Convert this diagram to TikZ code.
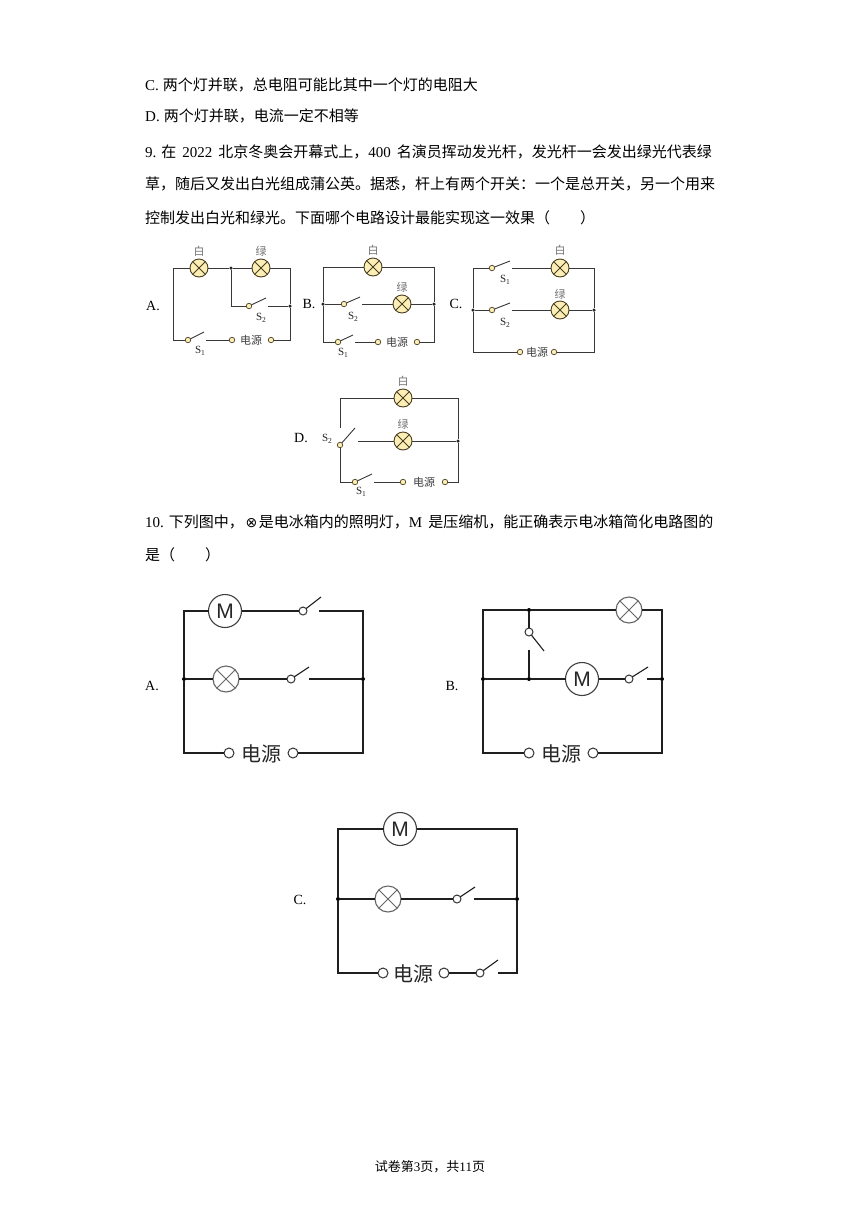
\documentclass[tikz,border=0pt]{standalone}
\usepackage{fontspec}
\setmainfont{Liberation Serif}
\newfontfamily\cjk{Noto Sans CJK SC}
\newfontfamily\arialf{Liberation Sans}
\newfontfamily\dejavu{DejaVu Sans}
\newcommand\zh[1]{{\cjk #1}}
\newcommand\Sn[1]{S\raisebox{-0.35ex}{\fontsize{7.5}{7.5}\selectfont #1}}
\definecolor{lampfill}{HTML}{FCEFB6}
\definecolor{lampline}{HTML}{4A3E22}
\tikzset{
 w9/.style={draw=black!78, line width=0.9pt},
 w10/.style={draw=black!88, line width=1.1pt},
 lamp9/.style={circle, draw=lampline, fill=lampfill, line width=0.9pt, minimum size=18pt, inner sep=0pt, outer sep=0pt},
 lamp10/.style={circle, draw=black!60, line width=1.1pt, minimum size=26pt, inner sep=0pt, outer sep=0pt},
 motor/.style={circle, draw=black!75, line width=1.1pt, minimum size=33pt, inner sep=0pt, outer sep=0pt, font=\arialf\fontsize{21}{21}\selectfont, text=black!85},
 piv9/.style={circle, draw=lampline, fill=lampfill, line width=0.7pt, minimum size=5.5pt, inner sep=0pt, outer sep=0pt},
 piv10/.style={circle, draw=black!80, fill=white, line width=1pt, minimum size=8pt, inner sep=0pt, outer sep=0pt},
 term10/.style={circle, draw=black!80, fill=white, line width=1pt, minimum size=10pt, inner sep=0pt, outer sep=0pt},
 dot9/.style={circle, fill=black!85, minimum size=3.5pt, inner sep=0pt, outer sep=0pt},
 dot10/.style={circle, fill=black, minimum size=4pt, inner sep=0pt, outer sep=0pt},
 txt/.style={anchor=west, inner sep=0pt, font=\fontsize{15}{18}\selectfont},
 lab9/.style={inner sep=0pt, font=\cjk\fontsize{11}{11}\selectfont, text=black!55},
 sub9/.style={inner sep=0pt, font=\fontsize{11}{11}\selectfont, text=black!85},
 src9/.style={inner sep=0pt, font=\cjk\fontsize{11}{11}\selectfont, text=black!75},
 src10/.style={inner sep=0pt, font=\cjk\fontsize{20}{20}\selectfont, text=black!85},
 opt/.style={inner sep=0pt, font=\fontsize{14}{14}\selectfont},
}
\newcommand\lampnine[2]{\node[lamp9] (#1) at (#2) {}; \draw[draw=lampline, line width=0.8pt] (#1.north east) -- (#1.south west) (#1.north west) -- (#1.south east);}
\newcommand\lampten[2]{\node[lamp10] (#1) at (#2) {}; \draw[draw=black!60, line width=1pt] (#1.north east) -- (#1.south west) (#1.north west) -- (#1.south east);}
\newcommand\swnine[3]{\node[piv9] (#1) at (#2) {}; \coordinate (#1t) at (#3); \draw[w9] (#1) -- (#1t);}
\newcommand\swten[3]{\node[piv10] (#1) at (#2) {}; \coordinate (#1t) at (#3); \draw[w10] (#1) -- (#1t);}
\begin{document}
\begin{tikzpicture}[x=1pt,y=-1pt]
\fill[white] (0,0) rectangle (860,1216);
\path[use as bounding box] (0,0) rectangle (860,1216);

% ---------- text ----------
\node[txt] (l1) at (145,85) {C.\hspace{4pt}\zh{两个灯并联，总电阻可能比其中一个灯的电阻大}};
\node[txt] (l2) at (145,116) {D.\hspace{4pt}\zh{两个灯并联，电流一定不相等}};
\node[txt] (l3) at (145,152) {9.\hspace{5pt}\zh{在}\hspace{6pt}2022\hspace{6pt}\zh{北京冬奥会开幕式上，}400\hspace{6pt}\zh{名演员挥动发光杆，发光杆一会发出绿光代表绿}};
\node[txt] (l4) at (145,184) {\zh{草，随后又发出白光组成蒲公英。据悉，杆上有两个开关：一个是总开关，另一个用来}};
\node[txt] (l5) at (145,218) {\zh{控制发出白光和绿光。下面哪个电路设计最能实现这一效果（　　）}};
\node[txt] (l6) at (145,522) {10.\hspace{5pt}\zh{下列图中，}\makebox[15pt]{\dejavu\fontsize{14}{14}\selectfont ⊗}\zh{是电冰箱内的照明灯，}M\hspace{6pt}\zh{是压缩机，能正确表示电冰箱简化电路图的}};
\node[txt] (l7) at (145,555) {\zh{是（　　）}};
\node[inner sep=0pt, font=\fontsize{13}{13}\selectfont] (foot) at (430,1167) {\zh{试卷第}3\zh{页，共}11\zh{页}};

% ---------- Q9 A ----------
\coordinate (a-tl) at (173,268); \coordinate (a-tr) at (290,268);
\coordinate (a-bl) at (173,340); \coordinate (a-br) at (290,340);
\lampnine{a-w}{199,268}
\lampnine{a-g}{261,268}
\node[dot9] (a-j) at (231,268) {};
\coordinate (a-jd) at (231,306);
\swnine{a-s2}{249,306}{266,298}
\coordinate (a-s2o) at (268,306);
\node[dot9] (a-r) at (290,306) {};
\swnine{a-s1}{188,340}{204,332}
\coordinate (a-s1o) at (206,340);
\node[piv9] (a-t1) at (232,340) {};
\node[piv9] (a-t2) at (271,340) {};
\node[src9] (a-src) at (251,340) {电源};
\draw[w9] (a-s1) -- (a-bl) -- (a-tl) -- (a-w) -- (a-j) -- (a-g) -- (a-tr) -- (a-r) -- (a-br) -- (a-t2);
\draw[w9] (a-j) -- (a-jd) -- (a-s2);
\draw[w9] (a-s2o) -- (a-r);
\draw[w9] (a-s1o) -- (a-t1);
\node[lab9] (a-lw) at (199,251) {白};
\node[lab9] (a-lg) at (261,251) {绿};
\node[sub9] (a-ls2) at (261,318) {\Sn{2}};
\node[sub9] (a-ls1) at (200,351) {\Sn{1}};
\node[opt] (a-opt) at (153,306) {A.};

% ---------- Q9 B ----------
\coordinate (b-tl) at (323,267); \coordinate (b-tr) at (434,267);
\coordinate (b-bl) at (323,342); \coordinate (b-br) at (434,342);
\node[dot9] (b-ml) at (323,304) {};
\node[dot9] (b-mr) at (434,304) {};
\lampnine{b-w}{373,267}
\swnine{b-s2}{344,304}{360,297}
\coordinate (b-s2o) at (362,304);
\lampnine{b-g}{402,304}
\swnine{b-s1}{338,342}{353,335}
\coordinate (b-s1o) at (355,342);
\node[piv9] (b-t1) at (378,342) {};
\node[piv9] (b-t2) at (417,342) {};
\node[src9] (b-src) at (397,342) {电源};
\draw[w9] (b-s1) -- (b-bl) -- (b-ml) -- (b-tl) -- (b-w) -- (b-tr) -- (b-mr) -- (b-br) -- (b-t2);
\draw[w9] (b-ml) -- (b-s2);
\draw[w9] (b-s2o) -- (b-g) -- (b-mr);
\draw[w9] (b-s1o) -- (b-t1);
\node[lab9] (b-lw) at (373,250) {白};
\node[lab9] (b-lg) at (402,287) {绿};
\node[sub9] (b-ls2) at (353,317) {\Sn{2}};
\node[sub9] (b-ls1) at (343,353) {\Sn{1}};
\node[opt] (b-opt) at (309,304) {B.};

% ---------- Q9 C ----------
\coordinate (c-tl) at (473,268); \coordinate (c-tr) at (594,268);
\coordinate (c-bl) at (473,352); \coordinate (c-br) at (594,352);
\node[dot9] (c-ml) at (473,310) {};
\node[dot9] (c-mr) at (594,310) {};
\swnine{c-s1}{492,268}{510,261}
\coordinate (c-s1o) at (512,268);
\lampnine{c-w}{560,268}
\swnine{c-s2}{492,310}{510,303}
\coordinate (c-s2o) at (512,310);
\lampnine{c-g}{560,310}
\node[piv9] (c-t1) at (520,352) {};
\node[piv9] (c-t2) at (554,352) {};
\node[src9] (c-src) at (537,352) {电源};
\draw[w9] (c-s1) -- (c-tl) -- (c-ml) -- (c-bl) -- (c-t1);
\draw[w9] (c-s1o) -- (c-w) -- (c-tr) -- (c-mr) -- (c-br) -- (c-t2);
\draw[w9] (c-ml) -- (c-s2);
\draw[w9] (c-s2o) -- (c-g) -- (c-mr);
\node[lab9] (c-lw) at (560,250) {白};
\node[lab9] (c-lg) at (560,294) {绿};
\node[sub9] (c-ls1) at (505,280) {\Sn{1}};
\node[sub9] (c-ls2) at (505,323) {\Sn{2}};
\node[opt] (c-opt) at (456,304) {C.};

% ---------- Q9 D ----------
\coordinate (d-tl) at (340,398); \coordinate (d-tr) at (458,398);
\coordinate (d-bl) at (340,482); \coordinate (d-br) at (458,482);
\node[dot9] (d-mr) at (458,441) {};
\lampnine{d-w}{403,398}
\coordinate (d-c) at (340,428);
\swnine{d-s2}{340,445}{355,428}
\coordinate (d-s2o) at (358,441);
\lampnine{d-g}{403,441}
\swnine{d-s1}{355,482}{372,474}
\coordinate (d-s1o) at (374,482);
\node[piv9] (d-t1) at (403,482) {};
\node[piv9] (d-t2) at (445,482) {};
\node[src9] (d-src) at (424,482) {电源};
\draw[w9] (d-c) -- (d-tl) -- (d-w) -- (d-tr) -- (d-mr) -- (d-br) -- (d-t2);
\draw[w9] (d-s2) -- (d-bl) -- (d-s1);
\draw[w9] (d-s2o) -- (d-g) -- (d-mr);
\draw[w9] (d-s1o) -- (d-t1);
\node[lab9] (d-lw) at (403,381) {白};
\node[lab9] (d-lg) at (403,424) {绿};
\node[sub9] (d-ls2) at (327,439) {\Sn{2}};
\node[sub9] (d-ls1) at (361,492) {\Sn{1}};
\node[opt] (d-opt) at (301,438) {D.};

% ---------- Q10 A ----------
\coordinate (qa-tl) at (184,611); \coordinate (qa-tr) at (363,611);
\coordinate (qa-bl) at (184,753); \coordinate (qa-br) at (363,753);
\node[dot10] (qa-ml) at (184,679) {};
\node[dot10] (qa-mr) at (363,679) {};
\node[motor] (qa-m) at (225,611) {M};
\swten{qa-s1}{303,611}{321,597}
\coordinate (qa-s1o) at (319,611);
\lampten{qa-l}{226,679}
\swten{qa-s2}{291,679}{309,667}
\coordinate (qa-s2o) at (309,679);
\node[term10] (qa-t1) at (229,753) {};
\node[term10] (qa-t2) at (293,753) {};
\node[src10] (qa-src) at (261,754) {电源};
\draw[w10] (qa-t1) -- (qa-bl) -- (qa-ml) -- (qa-tl) -- (qa-m) -- (qa-s1);
\draw[w10] (qa-s1o) -- (qa-tr) -- (qa-mr) -- (qa-br) -- (qa-t2);
\draw[w10] (qa-ml) -- (qa-l) -- (qa-s2);
\draw[w10] (qa-s2o) -- (qa-mr);
\node[opt] (qa-opt) at (152,686) {A.};

% ---------- Q10 B ----------
\coordinate (qb-tl) at (483,610); \coordinate (qb-tr) at (662,610);
\coordinate (qb-bl) at (483,753); \coordinate (qb-br) at (662,753);
\node[dot10] (qb-ml) at (483,679) {};
\node[dot10] (qb-mr) at (662,679) {};
\node[dot10] (qb-jt) at (529,610) {};
\node[dot10] (qb-jm) at (529,679) {};
\lampten{qb-l}{629,610}
\swten{qb-s1}{529,632}{544,651}
\coordinate (qb-c) at (529,650);
\node[motor] (qb-m) at (582,679) {M};
\swten{qb-s2}{629,679}{648,667}
\coordinate (qb-s2o) at (647,679);
\node[term10] (qb-t1) at (529,753) {};
\node[term10] (qb-t2) at (593,753) {};
\node[src10] (qb-src) at (561,754) {电源};
\draw[w10] (qb-t1) -- (qb-bl) -- (qb-ml) -- (qb-tl) -- (qb-jt) -- (qb-l) -- (qb-tr) -- (qb-mr) -- (qb-br) -- (qb-t2);
\draw[w10] (qb-jt) -- (qb-s1);
\draw[w10] (qb-c) -- (qb-jm);
\draw[w10] (qb-ml) -- (qb-jm) -- (qb-m) -- (qb-s2);
\draw[w10] (qb-s2o) -- (qb-mr);
\node[opt] (qb-opt) at (452,686) {B.};

% ---------- Q10 C ----------
\coordinate (qc-tl) at (338,829); \coordinate (qc-tr) at (517,829);
\coordinate (qc-bl) at (338,973); \coordinate (qc-br) at (517,973);
\node[dot10] (qc-ml) at (338,899) {};
\node[dot10] (qc-mr) at (517,899) {};
\node[motor] (qc-m) at (400,829) {M};
\lampten{qc-l}{388,899}
\swten{qc-s2}{457,899}{475,887}
\coordinate (qc-s2o) at (474,899);
\node[term10] (qc-t1) at (383,973) {};
\node[term10] (qc-t2) at (444,973) {};
\node[src10] (qc-src) at (413,974) {电源};
\swten{qc-s3}{480,973}{498,960}
\coordinate (qc-s3o) at (498,973);
\draw[w10] (qc-t1) -- (qc-bl) -- (qc-ml) -- (qc-tl) -- (qc-m) -- (qc-tr) -- (qc-mr) -- (qc-br) -- (qc-s3o);
\draw[w10] (qc-t2) -- (qc-s3);
\draw[w10] (qc-ml) -- (qc-l) -- (qc-s2);
\draw[w10] (qc-s2o) -- (qc-mr);
\node[opt] (qc-opt) at (300,900) {C.};
\end{tikzpicture}
\end{document}
